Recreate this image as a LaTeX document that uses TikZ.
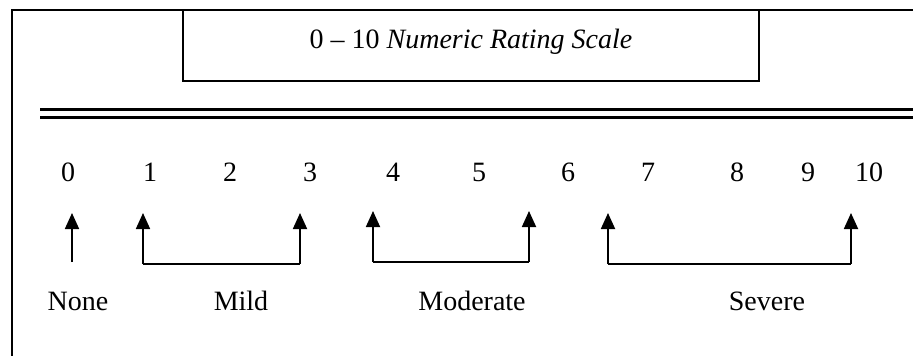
\documentclass[tikz,border=0pt]{standalone}
\usepackage{fontspec}
\setmainfont{Liberation Serif}
\usetikzlibrary{arrows.meta}
\begin{document}
\begin{tikzpicture}[x=1pt,y=-1pt,
  txt/.style={inner sep=0pt,anchor=base,font=\fontsize{28}{32}\selectfont},
  frameline/.style={line width=2pt},
  uparrow/.style={line width=1.8pt,-{Triangle[width=14pt,length=16pt]}},
  bracket/.style={line width=1.8pt}]
\useasboundingbox (0,0) rectangle (913,356);
% outer frame (open to the right and bottom)
\draw[frameline] (12,356) -- (12,10) -- (913,10);
% title box
\draw[frameline] (183,10) -- (183,81) -- (759,81) -- (759,10);
\node[txt] (title) at (471,48) {0 -- 10 \textit{Numeric Rating Scale}};
% double rule
\draw[line width=3.5pt] (40,109.5) -- (913,109.5);
\draw[line width=3pt] (40,117) -- (913,117);
% numbers
\foreach \n/\x in {0/68,1/150,2/230,3/310,4/393,5/479,6/568,7/648,8/737,9/808,10/869}
  \node[txt] (n\n) at (\x,181) {\n};
% arrow coordinates
\coordinate (a0b) at (72,262);  \coordinate (a0t) at (72,213);
\coordinate (m1b) at (143,264); \coordinate (m1t) at (143,213);
\coordinate (m2b) at (300,264); \coordinate (m2t) at (300,213);
\coordinate (d1b) at (373,262); \coordinate (d1t) at (373,211);
\coordinate (d2b) at (529,262); \coordinate (d2t) at (529,211);
\coordinate (s1b) at (608,264); \coordinate (s1t) at (608,213);
\coordinate (s2b) at (851,264); \coordinate (s2t) at (851,213);
% arrows
\draw[uparrow] (a0b) -- (a0t);
\draw[bracket] (m1b) -- (m2b);
\draw[uparrow] (m1b) -- (m1t);
\draw[uparrow] (m2b) -- (m2t);
\draw[bracket] (d1b) -- (d2b);
\draw[uparrow] (d1b) -- (d1t);
\draw[uparrow] (d2b) -- (d2t);
\draw[bracket] (s1b) -- (s2b);
\draw[uparrow] (s1b) -- (s1t);
\draw[uparrow] (s2b) -- (s2t);
% labels
\node[txt] (none) at (78,310) {None};
\node[txt] (mild) at (241,310) {Mild};
\node[txt] (moderate) at (472,310) {Moderate};
\node[txt] (severe) at (767,310) {Severe};
\end{tikzpicture}
\end{document}
